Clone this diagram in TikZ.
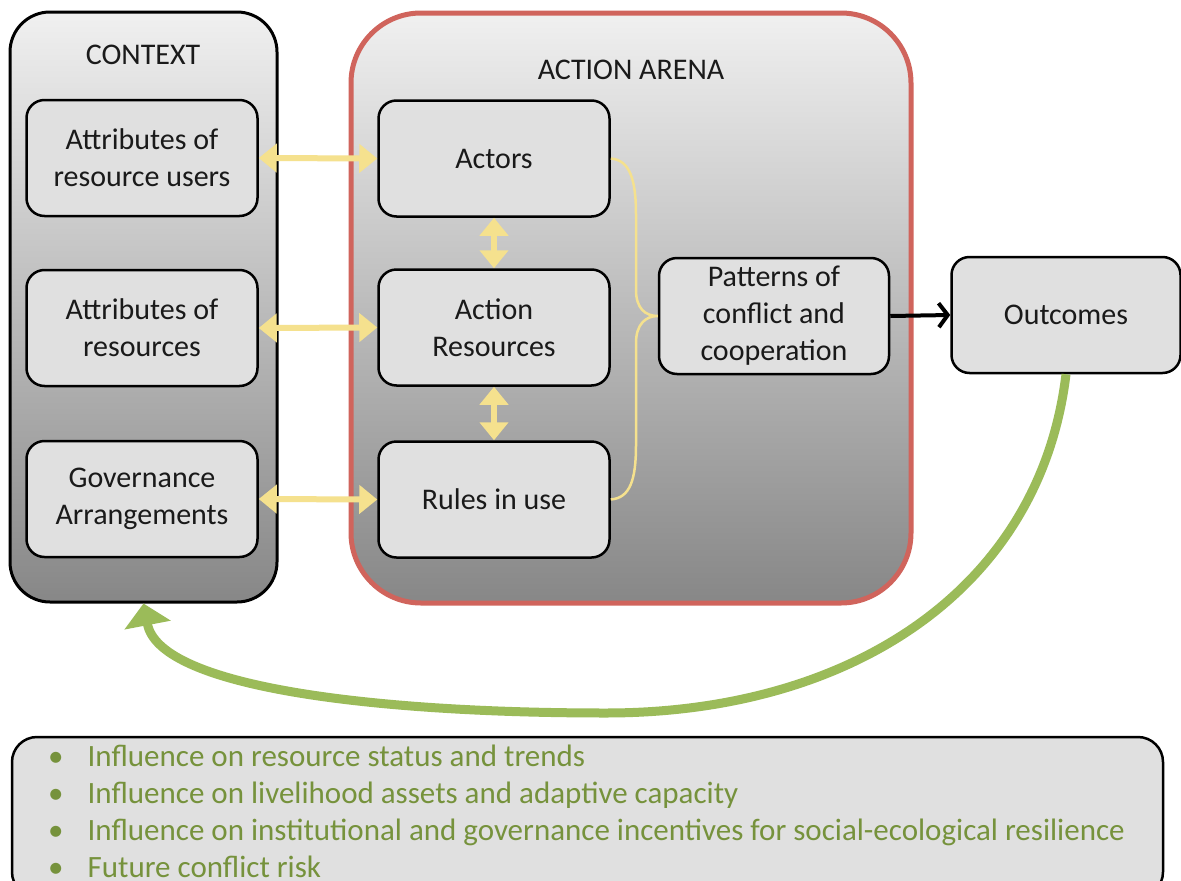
\documentclass[tikz,border=0pt]{standalone}
\usepackage{fontspec}
\setmainfont{Carlito}
\usetikzlibrary{arrows.meta}
\definecolor{boxfill}{HTML}{E0E0E0}
\definecolor{topgray}{HTML}{F0F0F0}
\definecolor{botgray}{HTML}{878787}
\definecolor{arenared}{HTML}{D0645C}
\definecolor{yel}{HTML}{F5E18E}
\definecolor{grn}{HTML}{9BBB59}
\definecolor{olive}{HTML}{76923C}
\definecolor{txt}{HTML}{1A1A1A}
\begin{document}
\begin{tikzpicture}[x=1pt,y=-1pt,
  panel/.style={draw=black, line width=3pt, top color=topgray, bottom color=botgray, rounded corners=40pt, inner sep=0pt},
  arenapanel/.style={draw=arenared, line width=5pt, top color=topgray, bottom color=botgray, rounded corners=70pt, inner sep=0pt},
  title/.style={font=\fontsize{30}{37}\selectfont, text=txt},
  inbox/.style={draw=black, line width=2.5pt, fill=boxfill, rounded corners=18pt, minimum width=231pt, minimum height=116pt, align=center, inner sep=2pt, font=\fontsize{30}{37}\selectfont, text=txt},
  yarrow/.style={draw=yel, line width=6pt, {Triangle[width=28pt,length=18pt]}-{Triangle[width=28pt,length=18pt]}},
  brace/.style={draw=yel, line width=2.5pt},
  blackarrow/.style={draw=black, line width=4pt, -{Straight Barb[length=9pt,width=24pt]}},
  feedback/.style={draw=grn, line width=9pt, -{Triangle[width=46pt,length=22pt]}},
  effectsbox/.style={draw=black, line width=2.5pt, fill=boxfill, rounded corners=25pt, inner sep=0pt},
  effectstext/.style={font=\fontsize{31}{37}\selectfont, text=olive, align=left, inner sep=0pt}
]
\clip (0,0) rectangle (1181,881);
\fill[white] (0,0) rectangle (1181,881);

% panels
\node[panel, minimum width=267pt, minimum height=590pt] (context) at (143.5,307) {};
\node[arenapanel, minimum width=560pt, minimum height=590pt] (arena) at (631,308) {};
\node[title] (ctxtitle) at (143,55) {CONTEXT};
\node[title] (arenatitle) at (631,70) {ACTION ARENA};

% context boxes
\node[inbox] (users) at (142,158) {Attributes of\\resource users};
\node[inbox] (resattr) at (142,328) {Attributes of\\resources};
\node[inbox] (gov) at (142,499) {Governance\\Arrangements};

% arena boxes
\node[inbox] (actors) at (494,158.5) {Actors};
\node[inbox] (actres) at (494,327.5) {Action\\Resources};
\node[inbox] (rules) at (494,499.5) {Rules in use};
\node[inbox, minimum width=230pt] (patterns) at (774,316) {Patterns of\\conflict and\\cooperation};

% outcomes
\node[inbox, minimum width=229pt] (outcomes) at (1066,315) {Outcomes};

% yellow arrows
\draw[yarrow] (users.east) -- (actors.west);
\draw[yarrow] (resattr.east) -- (actres.west);
\draw[yarrow] (gov.east) -- (rules.west);
\draw[yarrow] (actors.south) -- (actres.north);
\draw[yarrow] (actres.south) -- (rules.north);

% brace
\draw[brace] (actors.east) .. controls (630,160) and (636,180) .. (636,215)
  -- (636,290) .. controls (636,308) and (645,316) .. (patterns.west)
  .. controls (645,316) and (636,325) .. (636,343)
  -- (636,445) .. controls (636,480) and (630,498) .. (rules.east);

% black arrow
\draw[blackarrow] (patterns.east) -- (outcomes.west);

% feedback arrow
\coordinate (low) at (606,713);
\draw[feedback] (outcomes.south) .. controls (1040,590) and (850,713) .. (low)
  .. controls (390,713) and (160,690) .. (context.south);

% effects box
\node[effectsbox, minimum width=1151pt, minimum height=160pt] (effects) at (587.5,817) {};
\node[effectstext, anchor=west] (effectslist) at (48,814.5) {%
\begin{tabular}{@{}l@{\hspace{24pt}}l@{}}
\textbullet & Influence on resource status and trends\\
\textbullet & Influence on livelihood assets and adaptive capacity\\
\textbullet & Influence on institutional and governance incentives for social-ecological resilience\\
\textbullet & Future conflict risk
\end{tabular}};
\end{tikzpicture}
\end{document}
